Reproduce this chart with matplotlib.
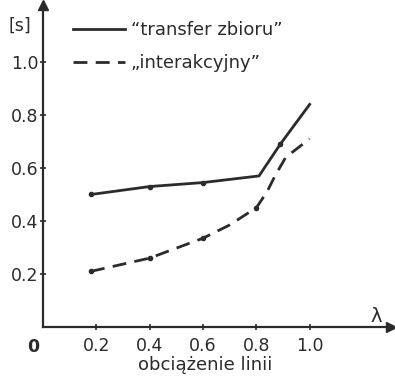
import matplotlib.pyplot as plt

# values
transfer_x = [0.18, 0.4, 0.6, 0.81, 0.89, 1.0]
transfer_y = [0.50, 0.53, 0.545, 0.57, 0.69, 0.84]
transfer_marks = [0, 1, 2, 4]

inter_x = [0.18, 0.4, 0.6, 0.7, 0.8, 0.84, 0.87, 0.91, 1.0]
inter_y = [0.21, 0.26, 0.335, 0.385, 0.45, 0.51, 0.57, 0.64, 0.71]
inter_marks = [0, 1, 2, 4]

x_ticks = [0.2, 0.4, 0.6, 0.8, 1.0]
y_ticks = [0.2, 0.4, 0.6, 0.8, 1.0]
tick_labels_x = ["0.2", "0.4", "0.6", "0.8", "1.0"]
tick_labels_y = ["0.2", "0.4", "0.6", "0.8", "1.0"]

fig = plt.figure(figsize=(3.95, 3.77), dpi=100)
ax = fig.add_axes([43 / 395, 50 / 377, 348 / 395, 322 / 377])
ax.set_xlim(0, 1.305)
ax.set_ylim(0, 1.215)

ink = "#2b2b2b"
ax.plot(transfer_x, transfer_y, color=ink, lw=2.0, solid_joinstyle="miter",
        label="\u201ctransfer zbioru\u201d")
ax.plot([transfer_x[i] for i in transfer_marks], [transfer_y[i] for i in transfer_marks],
        "o", color=ink, markersize=3)
ax.plot(inter_x, inter_y, color=ink, lw=2.0, dashes=(5, 3),
        label="\u201einterakcyjny\u201d")
ax.plot([inter_x[i] for i in inter_marks], [inter_y[i] for i in inter_marks],
        "o", color=ink, markersize=3)

for side in ["top", "right"]:
    ax.spines[side].set_visible(False)
for side in ["left", "bottom"]:
    ax.spines[side].set_linewidth(1.6)
    ax.spines[side].set_color(ink)

# arrow heads on the axes
ax.plot(1, 0, ">", color=ink, markersize=7, transform=ax.get_yaxis_transform(), clip_on=False)
ax.plot(0, 1, "^", color=ink, markersize=7, transform=ax.get_xaxis_transform(), clip_on=False)

ax.set_xticks(x_ticks)
ax.set_xticklabels(tick_labels_x)
ax.set_yticks(y_ticks)
ax.set_yticklabels(tick_labels_y)
ax.tick_params(direction="inout", length=5, width=1.2, color=ink, labelsize=12.5,
               labelcolor=ink)
ax.tick_params(axis="x", pad=5)
ax.tick_params(axis="y", pad=1)

ax.text(-0.035, -0.075, "0", fontsize=12.5, color=ink, ha="center", va="center", fontweight="bold")
ax.text(-0.085, 1.135, "[s]", fontsize=12.5, color=ink, ha="center", va="center")
ax.text(1.25, 0.04, "\u03bb", fontsize=14, color=ink, ha="center", va="center")
ax.text(0.61, -0.145, "obci\u0105\u017cenie linii", fontsize=13, color=ink, ha="center", va="center")

leg = ax.legend(loc="upper left", bbox_to_anchor=(0.086, 0.95), frameon=False, fontsize=13,
                handlelength=2.9, handletextpad=0.3, labelspacing=0.85, borderpad=0,
                borderaxespad=0)
for txt in leg.get_texts():
    txt.set_color(ink)

fig.savefig("out.png", dpi=100)
